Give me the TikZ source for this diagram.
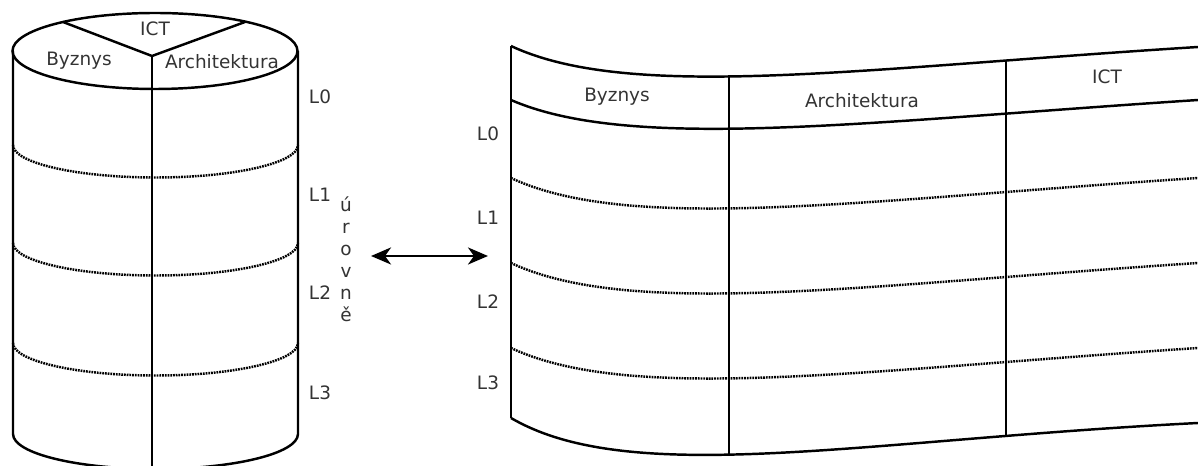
\documentclass[tikz,border=0pt]{standalone}
\usepackage{fontspec}
\setmainfont{DejaVu Sans}
\usetikzlibrary{arrows.meta}

\begin{document}
\begin{tikzpicture}[
            x = 0.2mm,
            y = -0.2mm,
            wall/.style = {
                line width = 1.4pt
            },
            lvl/.style = {
                line width = 1.4pt,
                dash pattern = on 1pt off 0.55pt
            },
            lbl/.style = {
                font = \fontsize{10.5}{12.5}\selectfont,
                text = black!80,
                inner sep = 0pt
            }
            ]
            \useasboundingbox (0,0) rectangle (1198,466);
            \clip (0,0) rectangle (1198,466);

            % cylinder
            \draw[wall] (155,51) ellipse [x radius = 28.5mm, y radius = 7.6mm];
            \coordinate (hub) at (152,56);
            \draw[wall] (63,22) -- (hub) -- (245,22);
            \draw[wall] (hub) -- (152,480);
            \draw[wall] (13,51) -- (13,434)
                arc [start angle = 180, end angle = 360, x radius = 28.5mm, y radius = 7mm]
                -- (298,51);
            \foreach \y in {145,243,343}
                \draw[lvl] (13,\y) arc [start angle = 180, end angle = 360, x radius = 28.5mm, y radius = 6.5mm];

            \node[lbl] (ict1) at (155,29) {ICT};
            \node[lbl] (byz1) at (79,61) {Byznys};
            \node[lbl] (arch1) at (222,62) {Architektura};
            \node[lbl] (l0a) at (320,97) {L0};
            \node[lbl] (l1a) at (320,195) {L1};
            \node[lbl] (l2a) at (320,293) {L2};
            \node[lbl] (l3a) at (320,393) {L3};
            \node[lbl, align = center] (uroven) at (346,259) {ú\\r\\o\\v\\n\\ě};

            % arrow
            \coordinate (al) at (371,256);
            \coordinate (ar) at (488,256);
            \draw[line width = 1.6pt, {Stealth[length = 4mm, width = 3.4mm, inset = 1.2mm]}-{Stealth[length = 4mm, width = 3.4mm, inset = 1.2mm]}] (al) -- (ar);

            % unrolled surface
            \draw[wall] (511,46) .. controls +(120,56) and +(-337,21) .. (1198,47);
            \draw[wall] (511,100) .. controls +(120,52) and +(-337,22) .. (1198,100);
            \foreach \y in {178,263,348}
                \draw[lvl] (511,\y) .. controls +(120,56) and +(-337,22) .. (1198,\y);
            \draw[wall] (511,418) .. controls +(120,70) and +(-337,17) .. (1198,423);
            \draw[wall] (511,46) -- (511,418);
            \draw[wall] (729,76.5) -- (729,455);
            \draw[wall] (1006,60) -- (1006,436);

            \node[lbl] (byz2) at (617,97) {Byznys};
            \node[lbl] (arch2) at (862,101) {Architektura};
            \node[lbl] (ict2) at (1107,77) {ICT};
            \node[lbl] (l0b) at (488,134) {L0};
            \node[lbl] (l1b) at (488,218) {L1};
            \node[lbl] (l2b) at (488,302) {L2};
            \node[lbl] (l3b) at (488,383) {L3};
        \end{tikzpicture}
\end{document}
